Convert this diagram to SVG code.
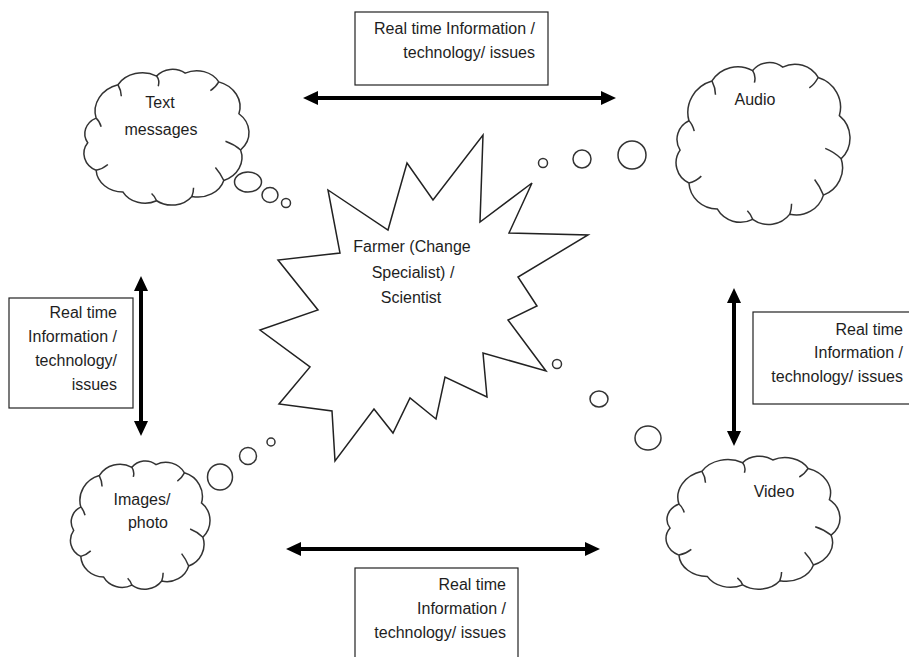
<svg xmlns="http://www.w3.org/2000/svg" width="909" height="657" viewBox="0 0 909 657">
<style>
.t{font-family:"Liberation Sans",Arial,sans-serif;font-size:16px;fill:#1e1e1e}
.m{text-anchor:middle}
.e{text-anchor:end}
.cl{fill:#fff;stroke:#333;stroke-width:1.5;vector-effect:non-scaling-stroke}
.in{fill:none;stroke:#333;stroke-width:1.5;vector-effect:non-scaling-stroke}
.bub{fill:#fff;stroke:#333;stroke-width:1.5}
.box{fill:#fff;stroke:#222;stroke-width:1.2}
.arr{stroke:#000;stroke-width:4;fill:none}
</style>
<defs>
<marker id="ah" viewBox="0 -7 15 14" refX="1" refY="0" markerWidth="15" markerHeight="14" markerUnits="userSpaceOnUse" orient="auto-start-reverse">
<path d="M0,-7 L15,0 L0,7 z" fill="#000"/>
</marker>
<g id="cloudShape">
<path class="cl" d="M9,38 A19,19 0 0 1 22,15 A17,17 0 0 1 45,9 A12,12 0 0 1 62,7 A15,15 0 0 1 82,13 A18,18 0 0 1 94,35 A17,17 0 0 1 95,60 A17,17 0 0 1 85,81 A16,16 0 0 1 66,92 A15,15 0 0 1 45,95 A15,15 0 0 1 25,89 A16,16 0 0 1 9,74 A13,13 0 0 1 4,55 A12,12 0 0 1 9,38 Z"/>
<path class="in" d="M22,15 Q24,19 24,23 M45,9 Q47,12 46,16 M82,13 Q80,17 77,19 M95,60 Q91,56 86,54 M85,81 Q83,76 80,72 M66,92 Q67,89 67,86 M45,95 Q44,92 42,90 M9,74 Q13,73 16,70 M9,38 Q11,40 12,44"/>
</g>
</defs>

<g id="connectors">
<line class="arr" x1="317" y1="98" x2="602" y2="98" marker-start="url(#ah)" marker-end="url(#ah)"/>
<line class="arr" x1="300" y1="549" x2="586" y2="549" marker-start="url(#ah)" marker-end="url(#ah)"/>
<line class="arr" x1="141" y1="290" x2="141" y2="422" marker-start="url(#ah)" marker-end="url(#ah)"/>
<line class="arr" x1="734" y1="302" x2="734" y2="432" marker-start="url(#ah)" marker-end="url(#ah)"/>
</g>

<g id="center">
<polygon points="483,135 480,222 532,183 509,233 588,235 518,277 537,306 508,320 546,371 483,353 487,397 445,377 436,419 410,398 393,433 374,409 335,461 332,411 279,404 310,367 260,330 318,310 278,260 340,253 328,190 388,230 407,163 433,200" fill="#fff" stroke="#222" stroke-width="1.5" stroke-linejoin="miter"/>
<text class="t m" x="412" y="252">Farmer (Change</text>
<text class="t m" x="413" y="278">Specialist) /</text>
<text class="t m" x="411" y="303">Scientist</text>
</g>

<g id="text-messages">
<use href="#cloudShape" transform="translate(81,63) scale(1.68,1.45)"/>
<ellipse class="bub" cx="248" cy="182" rx="13.5" ry="10"/>
<ellipse class="bub" cx="270" cy="195" rx="8" ry="7.5"/>
<circle class="bub" cx="286" cy="203" r="4.5"/>
<text class="t m" x="160" y="108">Text</text>
<text class="t m" x="161" y="135">messages</text>
</g>

<g id="audio">
<use href="#cloudShape" transform="translate(673,55) scale(1.77,1.73)"/>
<circle class="bub" cx="543" cy="163" r="4.5"/>
<circle class="bub" cx="582" cy="159" r="9"/>
<circle class="bub" cx="632" cy="155" r="14"/>
<text class="t m" x="755" y="105">Audio</text>
</g>

<g id="images">
<use href="#cloudShape" transform="translate(68,455) scale(1.42,1.37)"/>
<ellipse class="bub" cx="220" cy="477" rx="12.5" ry="13"/>
<circle class="bub" cx="248" cy="456" r="8.5"/>
<circle class="bub" cx="271" cy="442" r="4"/>
<text class="t m" x="142" y="505">Images/</text>
<text class="t m" x="148" y="528">photo</text>
</g>

<g id="video">
<use href="#cloudShape" transform="translate(663,450) scale(1.77,1.42)"/>
<circle class="bub" cx="557" cy="364" r="4.5"/>
<ellipse class="bub" cx="599" cy="399" rx="9" ry="8"/>
<ellipse class="bub" cx="648" cy="438" rx="13" ry="12"/>
<text class="t m" x="774" y="497">Video</text>
</g>

<g id="label-top">
<rect class="box" x="355" y="12" width="193" height="73"/>
<text class="t e" x="535" y="34">Real time Information /</text>
<text class="t e" x="535" y="58">technology/ issues</text>
</g>

<g id="label-left">
<rect class="box" x="9" y="298" width="124" height="110"/>
<text class="t e" x="117" y="318">Real time</text>
<text class="t e" x="117" y="342">Information /</text>
<text class="t e" x="117" y="366">technology/</text>
<text class="t e" x="117" y="390">issues</text>
</g>

<g id="label-right">
<rect class="box" x="753" y="312" width="170" height="92"/>
<text class="t e" x="903" y="335">Real time</text>
<text class="t e" x="903" y="358">Information /</text>
<text class="t e" x="903" y="382">technology/ issues</text>
</g>

<g id="label-bottom">
<rect class="box" x="355" y="568" width="163" height="100"/>
<text class="t e" x="506" y="590">Real time</text>
<text class="t e" x="506" y="614">Information /</text>
<text class="t e" x="506" y="638">technology/ issues</text>
</g>
</svg>
